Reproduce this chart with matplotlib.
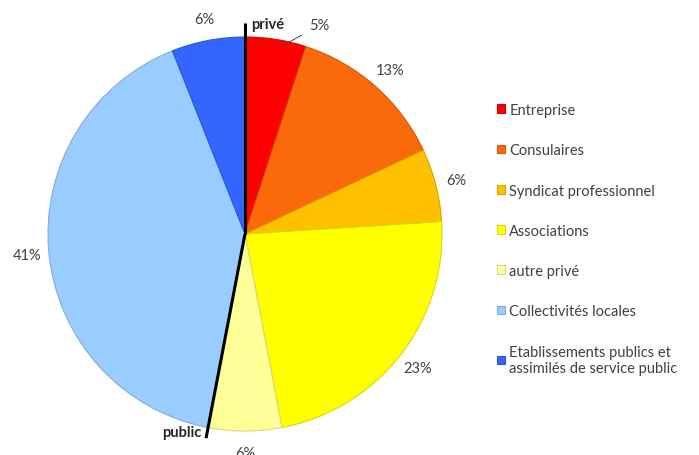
import numpy as np
import matplotlib.pyplot as plt
from matplotlib.colors import to_rgb

plt.rcParams['font.family'] = ['Lato', 'DejaVu Sans']

# parts of each category (%), clockwise from the top
categories = ['Entreprise', 'Consulaires', 'Syndicat professionnel', 'Associations',
              'autre privé', 'Collectivités locales',
              'Etablissements publics et\nassimilés de service public']
shares = [5, 13, 6, 23, 6, 41, 6]
colors = ['#FF0000', '#FA6A0A', '#FFC000', '#FFFF00', '#FFFF99', '#99CCFF', '#3366FF']
n_prive = 5  # first five categories are private

fig = plt.figure(figsize=(6.99, 4.56), dpi=100)
W, H = 699, 456
cx, cy, R = 245, 235, 197  # pie centre and radius in pixels
lim = 1.3
ax = fig.add_axes([(cx - R * lim) / W, (H - cy - R * lim) / H, 2 * R * lim / W, 2 * R * lim / H])
ax.set_xlim(-lim, lim)
ax.set_ylim(-lim, lim)
ax.axis('off')

edges = [tuple(c * 0.85 for c in to_rgb(col)) for col in colors]
wedges, _ = ax.pie(shares, colors=colors, startangle=90, counterclock=False, radius=1,
                   wedgeprops=dict(linewidth=0.8), frame=True)
for w, e in zip(wedges, edges):
    w.set_edgecolor(e)
ax.axis('off')

# percentage labels outside the wedges
total = sum(shares)
cum = np.cumsum([0] + shares)
for i, v in enumerate(shares):
    mid = 90 - 360 * (cum[i] + v / 2) / total
    a = np.deg2rad(mid)
    txt = f'{v}%'
    if i == 0:
        # small slice: label pushed aside with a leader line
        a2 = np.deg2rad(mid - 10)
        ax.annotate(txt, xy=(1.0 * np.cos(a) + 0.02, 0.96 * np.sin(a)),
                    xytext=(1.16 * np.cos(a2), 1.12 * np.sin(a2)),
                    ha='center', va='center', fontsize=10.5, color='#404040',
                    arrowprops=dict(arrowstyle='-', color='#404040', lw=0.7,
                                    shrinkA=4, shrinkB=0))
    else:
        ax.text(1.11 * np.cos(a), 1.11 * np.sin(a), txt, ha='center', va='center',
                fontsize=10.5, color='#404040')

# separators between private and public
ax.plot([0, 0], [0, 1.07], color='black', lw=2.2, solid_capstyle='butt')
b = np.deg2rad(90 - 360 * cum[n_prive] / total)
ax.plot([0, 1.055 * np.cos(b)], [0, 1.055 * np.sin(b)], color='black', lw=2.2,
        solid_capstyle='butt')
ax.text(0.03, 1.065, 'privé', fontsize=10.5, fontweight='bold', color='#262626',
        ha='left', va='center')
ax.text(1.03 * np.cos(b) - 0.03, 1.025 * np.sin(b), 'public', fontsize=10.5,
        fontweight='bold', color='#262626', ha='right', va='center')

leg = fig.legend(wedges, categories, loc='center left', bbox_to_anchor=(497 / W, 0.474),
                 frameon=False, fontsize=10.5, handlelength=0.55, handleheight=0.55,
                 handletextpad=0.3, labelspacing=1.8, borderpad=0, borderaxespad=0)
for t in leg.get_texts():
    t.set_color('#404040')

fig.savefig('out.png', dpi=100)
